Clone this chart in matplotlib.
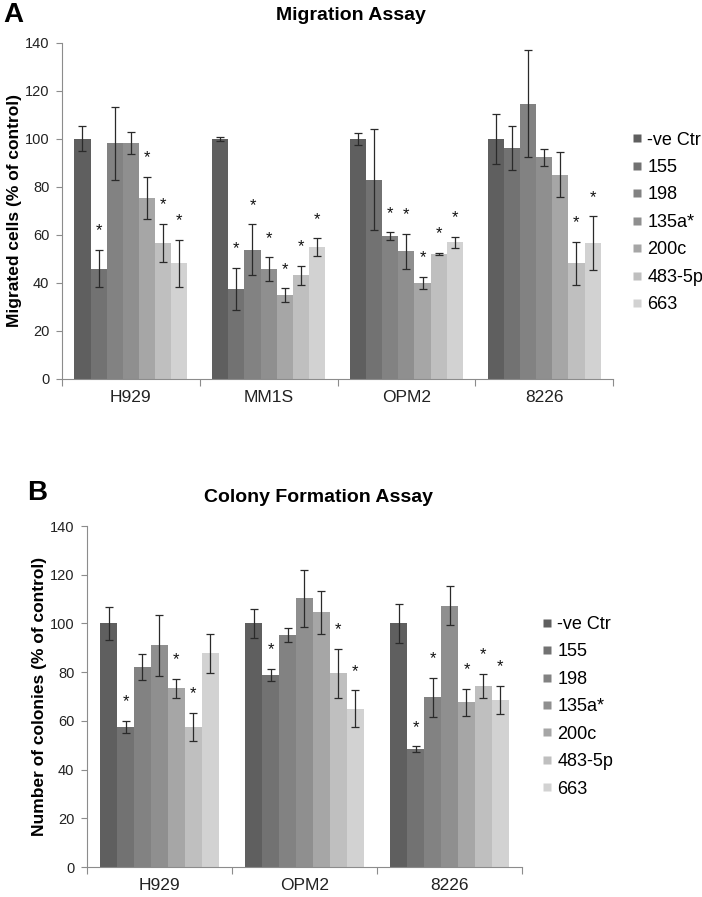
import matplotlib
matplotlib.use("Agg")
import matplotlib.pyplot as plt
from matplotlib.lines import Line2D
import numpy as np

plt.rcParams['font.family'] = ['Liberation Sans', 'DejaVu Sans']

series = ['-ve Ctr', '155', '198', '135a*', '200c', '483-5p', '663']
colors = ['#5f5f5f', '#727272', '#828282', '#8f8f8f', '#a6a6a6', '#bfbfbf', '#d2d2d2']

# panel A - migration
mig_groups = ['H929', 'MM1S', 'OPM2', '8226']
mig_means = [
    [100, 100, 100, 100],
    [46.0, 37.6, 83.0, 96.1],
    [98.2, 53.9, 59.6, 114.6],
    [98.5, 45.7, 53.3, 92.4],
    [75.5, 35.0, 40.1, 85.1],
    [56.8, 43.2, 52.1, 48.2],
    [48.2, 55.0, 57.0, 56.5],
]
mig_errs = [
    [5.2, 1.0, 2.5, 10.4],
    [7.8, 8.7, 21.0, 9.2],
    [15.2, 10.5, 1.5, 22.3],
    [4.6, 5.0, 7.3, 3.6],
    [8.8, 2.8, 2.5, 9.4],
    [7.9, 4.0, 0.5, 8.9],
    [9.8, 3.6, 2.3, 11.3],
]
mig_sig = [
    [0, 0, 0, 0],
    [1, 1, 0, 0],
    [0, 1, 1, 0],
    [0, 1, 1, 0],
    [1, 1, 1, 0],
    [1, 1, 1, 1],
    [1, 1, 1, 1],
]

# panel B - colony formation
col_groups = ['H929', 'OPM2', '8226']
col_means = [
    [100, 100, 100],
    [57.6, 78.8, 48.4],
    [82.2, 95.2, 69.6],
    [91.0, 110.3, 107.3],
    [73.3, 104.5, 67.6],
    [57.6, 79.5, 74.3],
    [87.7, 64.9, 68.6],
]
col_errs = [
    [6.7, 5.8, 8.0],
    [2.4, 2.5, 1.1],
    [5.4, 2.9, 8.2],
    [12.5, 11.7, 8.0],
    [3.8, 8.8, 5.4],
    [5.8, 10.0, 5.0],
    [7.9, 7.6, 5.9],
]
col_sig = [
    [0, 0, 0],
    [1, 1, 1],
    [0, 0, 1],
    [0, 0, 0],
    [1, 0, 1],
    [1, 1, 1],
    [0, 1, 1],
]


def draw_panel(ax, groups, means, errs, sigs, ylabel):
    n = len(groups)
    x = np.arange(n)
    k = len(series)
    w = 0.82 / k
    for i in range(k):
        xs = x - 0.41 + w * (i + 0.5)
        m = np.array(means[i])
        e = np.array(errs[i])
        ax.bar(xs, m, width=w, color=colors[i], edgecolor='none', zorder=2)
        ax.errorbar(xs, m, yerr=e, fmt='none', ecolor='#2a2a2a', elinewidth=0.9,
                    capsize=2.6, capthick=0.9, zorder=3)
        for j in range(n):
            if sigs[i][j]:
                ax.text(xs[j], m[j] + e[j] + 6, '*', ha='center', va='baseline',
                        fontsize=12, color='#111111', zorder=4)

    ax.set_xlim(-0.5, n - 0.5)
    ax.set_ylim(0, 140)
    ax.set_yticks(np.arange(0, 141, 20))
    ax.set_xticks(np.arange(-0.5, n, 1.0))
    ax.set_xticklabels([])
    ax.set_xticks(x, minor=True)
    ax.set_xticklabels(groups, minor=True, fontsize=12.5)
    ax.tick_params(axis='x', which='major', length=5, color='#8c8c8c', width=0.8)
    ax.tick_params(axis='x', which='minor', length=0, pad=8, labelcolor='#222222')
    ax.tick_params(axis='y', length=4, color='#8c8c8c', width=0.8, labelsize=10.5,
                   labelcolor='#222222', pad=5)
    for s in ['top', 'right']:
        ax.spines[s].set_visible(False)
    for s in ['left', 'bottom']:
        ax.spines[s].set_color('#8c8c8c')
        ax.spines[s].set_linewidth(0.8)
    ax.set_ylabel(ylabel, fontsize=12.5, fontweight='bold')


fig = plt.figure(figsize=(7.02, 8.97), dpi=100)
axA = fig.add_axes([0.0883, 0.5775, 0.785, 0.3746])
axB = fig.add_axes([0.1239, 0.0334, 0.6197, 0.3802])

draw_panel(axA, mig_groups, mig_means, mig_errs, mig_sig, 'Migrated cells (% of control)')
draw_panel(axB, col_groups, col_means, col_errs, col_sig, 'Number of colonies (% of control)')
axA.yaxis.set_label_coords(-0.0726, 0.5)
axB.yaxis.set_label_coords(-0.092, 0.5)

handles = [Line2D([], [], marker='s', linestyle='none', markersize=6,
                  markerfacecolor=c, markeredgecolor='none') for c in colors]
for ax, anchor in [(axA, (0.900, 0.752)), (axB, (0.772, 0.212))]:
    ax.legend(handles, series, loc='center left', bbox_to_anchor=anchor,
              bbox_transform=fig.transFigure, frameon=False, fontsize=13,
              handlelength=0.6, handletextpad=0.25, labelspacing=0.58,
              borderpad=0, borderaxespad=0)

fig.text(0.5, 1 - 15 / 897, 'Migration Assay', ha='center', va='center',
         fontsize=14, fontweight='bold')
fig.text(318 / 702, 1 - 497 / 897, 'Colony Formation Assay', ha='center', va='center',
         fontsize=14, fontweight='bold')
fig.text(13 / 702, 1 - 15 / 897, 'A', ha='center', va='center', fontsize=20, fontweight='bold')
fig.text(37 / 702, 1 - 493 / 897, 'B', ha='center', va='center', fontsize=20, fontweight='bold')

fig.savefig('out.png', dpi=100)
